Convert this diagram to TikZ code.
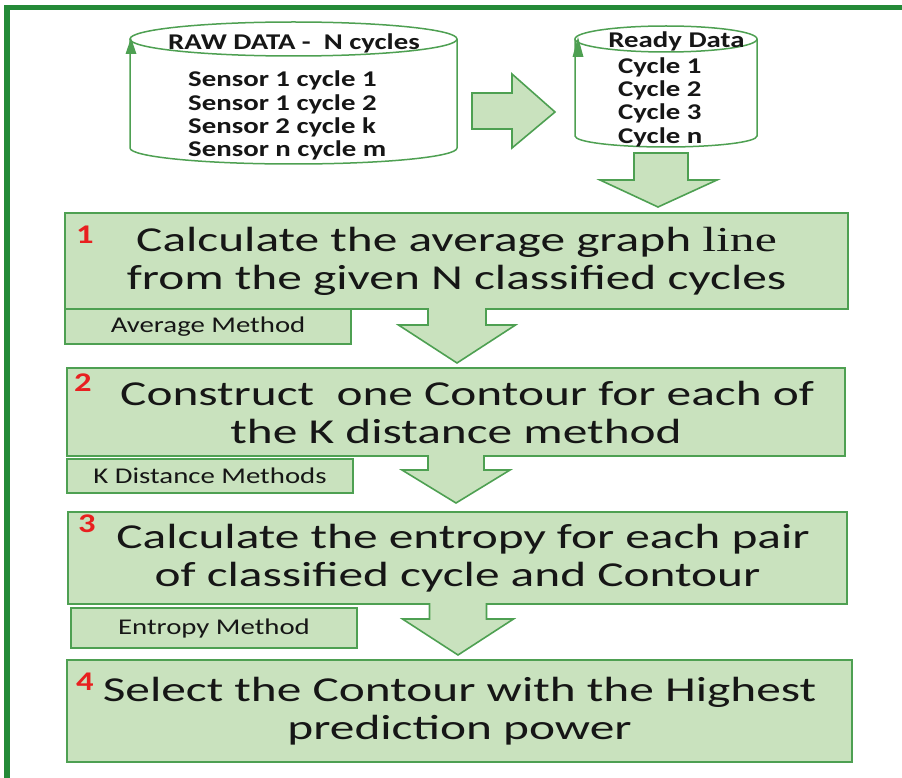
\documentclass[tikz,border=0pt]{standalone}
\usepackage{fontspec}
\setmainfont{Carlito}[FakeStretch=1.28]
\newfontfamily\stepfont{Carlito}[FakeStretch=1.41]
\newfontfamily\serifpart{Liberation Serif}[FakeStretch=1.42]
\definecolor{boxfill}{RGB}{201,226,190}
\definecolor{boxline}{RGB}{78,160,82}
\definecolor{framegreen}{RGB}{36,138,56}
\definecolor{stepred}{RGB}{232,32,32}
\definecolor{inktext}{RGB}{22,22,22}

% down-pointing block arrow hanging from a box: centre x, top y, head base y, tip y, shaft half width, head half width
\newcommand{\hangarrow}[6]{%
  \fill[boxfill] (#1-#5,#2) -- (#1-#5,#3) -- (#1-#6,#3) -- (#1,#4) -- (#1+#6,#3) -- (#1+#5,#3) -- (#1+#5,#2) -- cycle;
  \draw[arrowline] (#1-#5,#2) -- (#1-#5,#3) -- (#1-#6,#3) -- (#1,#4) -- (#1+#6,#3) -- (#1+#5,#3) -- (#1+#5,#2);
}

\begin{document}
\begin{tikzpicture}[x=1pt,y=-1pt,
  stepbox/.style={draw=boxline, fill=boxfill, line width=1.6pt, inner sep=0pt,
    align=center, text=inktext, font=\stepfont\fontsize{35}{38}\selectfont},
  methodbox/.style={draw=boxline, fill=boxfill, line width=1.6pt, inner sep=0pt,
    text=inktext, font=\fontsize{22.5}{24}\selectfont},
  stepnum/.style={text=stepred, inner sep=0pt, font=\bfseries\fontsize{27}{27}\selectfont},
  dbtext/.style={text=inktext, inner sep=0pt, font=\bfseries\fontsize{22.5}{24}\selectfont},
  arrowline/.style={draw=boxline, line width=1.6pt, line join=miter},
  canline/.style={draw=boxline, line width=1.5pt},
]
\useasboundingbox (0,0) rectangle (902,778);

% outer frame
\draw[framegreen, line width=5.5pt, line join=miter] (7,800) -- (7,7.5) -- (920,7.5);

% raw data store
\fill[white] (130,39) -- (130,148) arc[start angle=180, end angle=360, x radius=163.5pt, y radius=16pt] -- (457,39) -- cycle;
\draw[canline] (130,39) -- (130,148) arc[start angle=180, end angle=360, x radius=163.5pt, y radius=16pt] -- (457,39);
\draw[canline, fill=white] (293.5,39) ellipse[x radius=163.5pt, y radius=17pt];
\fill[boxline] (125.5,54) -- (131,38) -- (136.5,54) -- cycle;
\node[dbtext, anchor=base] (rawtitle) at (294,50) {RAW DATA -\ \ N cycles};
\node[dbtext, anchor=base west] (raw1) at (188,87) {Sensor 1 cycle 1};
\node[dbtext, anchor=base west] (raw2) at (188,111) {Sensor 1 cycle 2};
\node[dbtext, anchor=base west] (raw3) at (188,134) {Sensor 2 cycle k};
\node[dbtext, anchor=base west] (raw4) at (188,157) {Sensor n cycle m};

% ready data store
\fill[white] (575,39) -- (575,136) arc[start angle=180, end angle=360, x radius=91pt, y radius=11pt] -- (757,39) -- cycle;
\draw[canline] (575,39) -- (575,136) arc[start angle=180, end angle=360, x radius=91pt, y radius=11pt] -- (757,39);
\draw[canline, fill=white] (666,39) ellipse[x radius=91pt, y radius=13pt];
\fill[boxline] (572.5,57) -- (578,37) -- (583.5,57) -- cycle;
\node[dbtext, anchor=base] (readytitle) at (676.5,48) {Ready Data};
\node[dbtext, anchor=base west] (ready1) at (618,74) {Cycle 1};
\node[dbtext, anchor=base west] (ready2) at (618,97) {Cycle 2};
\node[dbtext, anchor=base west] (ready3) at (618,120) {Cycle 3};
\node[dbtext, anchor=base west] (ready4) at (618,144) {Cycle n};

% block arrow between the stores
\draw[arrowline, fill=boxfill] (472,93) -- (512,93) -- (512,74) -- (555,112) -- (512,148) -- (512,129) -- (472,129) -- cycle;
% block arrow from the ready store down to step 1
\draw[arrowline, fill=boxfill] (634,153) -- (688,153) -- (688,180) -- (717,180) -- (658,207) -- (600,180) -- (634,180) -- cycle;

% step boxes
\node[stepbox, minimum width=783pt, minimum height=96pt] (s1) at (456.5,261)
  {Calculate the average graph {\serifpart line}\\from the given N classified cycles};
\node[stepbox, minimum width=778pt, minimum height=88pt] (s2) at (456,412)
  {\ \ Construct\ \ one Contour for each of\\the K distance method};
\node[stepbox, minimum width=779pt, minimum height=92pt] (s3) at (457.5,558)
  {\ Calculate the entropy for each pair\\of classified cycle and Contour};
\node[stepbox, minimum width=785pt, minimum height=102pt] (s4) at (459.5,711)
  {Select the Contour with the Highest\\prediction power};

\node[stepnum] (n1) at (85,235) {1};
\node[stepnum] (n2) at (83,383) {2};
\node[stepnum] (n3) at (87,524) {3};
\node[stepnum] (n4) at (85,682) {4};

% method labels under the steps
\node[methodbox, minimum width=286pt, minimum height=35pt] (m1) at (208,326.5) {Average Method};
\node[methodbox, minimum width=286pt, minimum height=34pt] (m2) at (210,476) {K Distance Methods};
\node[methodbox, minimum width=286pt, minimum height=40pt] (m3) at (214,628) {Entropy Method};

% block arrows between steps
\hangarrow{457}{308}{325}{363}{29}{58.5}
\hangarrow{456}{455}{470}{503}{28}{54}
\hangarrow{458}{603}{619}{655}{28.5}{55.5}
\end{tikzpicture}
\end{document}
